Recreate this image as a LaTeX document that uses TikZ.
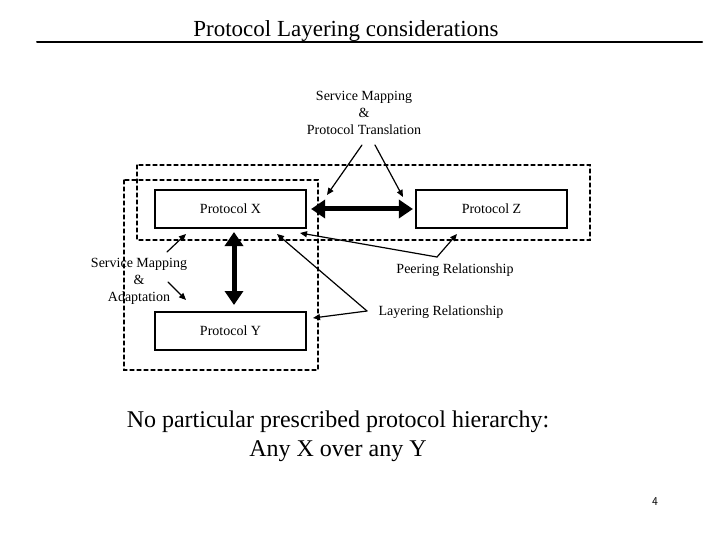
\documentclass[tikz,border=0pt]{standalone}
\usepackage{fontspec}
\setmainfont{Liberation Serif}
\usetikzlibrary{arrows.meta,calc,positioning}
\begin{document}
\begin{tikzpicture}[x=1pt,y=-1pt,line cap=round,
  proto/.style={draw,line width=2.2pt,minimum width=151pt,minimum height=38pt,font=\fontsize{14}{16}\selectfont},
  lbl/.style={font=\fontsize{14}{17}\selectfont,align=center},
  rel/.style={-{Triangle[length=7pt,width=6pt]},line width=1.2pt},
  fat/.style={{Triangle[length=14pt,width=18pt]}-{Triangle[length=14pt,width=18pt]},line width=5pt,line cap=butt},
  zone/.style={dashed,line width=1.3pt,dash pattern=on 4pt off 3pt}]
  \useasboundingbox (0,0) rectangle (720,540);
  % title
  \node[font=\fontsize{23}{27}\selectfont] (title) at (346,31) {Protocol Layering considerations};
  \draw[line width=2pt] (37,42) coordinate (ul) -- (702,42) coordinate (ur);
  % dashed zones
  \draw[zone] (137,165) rectangle (590,240);
  \draw[zone] (124,180) rectangle (318,370);
  % protocol boxes
  \node[proto] (px) at (230.5,209) {Protocol X};
  \node[proto] (pz) at (491.5,209) {Protocol Z};
  \node[proto] (py) at (230.5,331) {Protocol Y};
  \draw[fat] (px.east) ++(4,0) coordinate (a1) -- ($(pz.west)+(-2,0)$) coordinate (a2);
  \draw[fat] (234,232) coordinate (v1) -- (234,305) coordinate (v2);
  % service mapping & translation
  \node[lbl] (smt) at (364,113) {Service Mapping\\\&\\Protocol Translation};
  \coordinate (s1) at (362,145);
  \coordinate (s2) at (375,145);
  \draw[rel] (s1) -- (327,195);
  \draw[rel] (s2) -- (403,197);
  % service mapping & adaptation
  \node[lbl] (sma) at (139,281) {Service Mapping\\\&\\Adaptation};
  \draw[rel] (167,252) -- (186,234);
  \draw[rel] (168,282) -- (186,300);
  % relationships
  \node[lbl] (peer) at (455,270) {Peering Relationship};
  \node[lbl] (layer) at (441,312) {Layering Relationship};
  \coordinate (pk) at (437,257);
  \coordinate (lk) at (367,311);
  \draw[rel] (pk) -- (300,233);
  \draw[rel] (pk) -- (457,234);
  \draw[rel] (lk) -- (277,234);
  \draw[rel] (lk) -- (313,318);
  % conclusion
  \node[lbl,font=\fontsize{24}{29}\selectfont] (concl) at (338,436) {No particular prescribed protocol hierarchy:\\Any X over any Y};
  \node[font=\fontsize{12}{14}\selectfont\sffamily] (page) at (655,502) {4};
\end{tikzpicture}
\end{document}
